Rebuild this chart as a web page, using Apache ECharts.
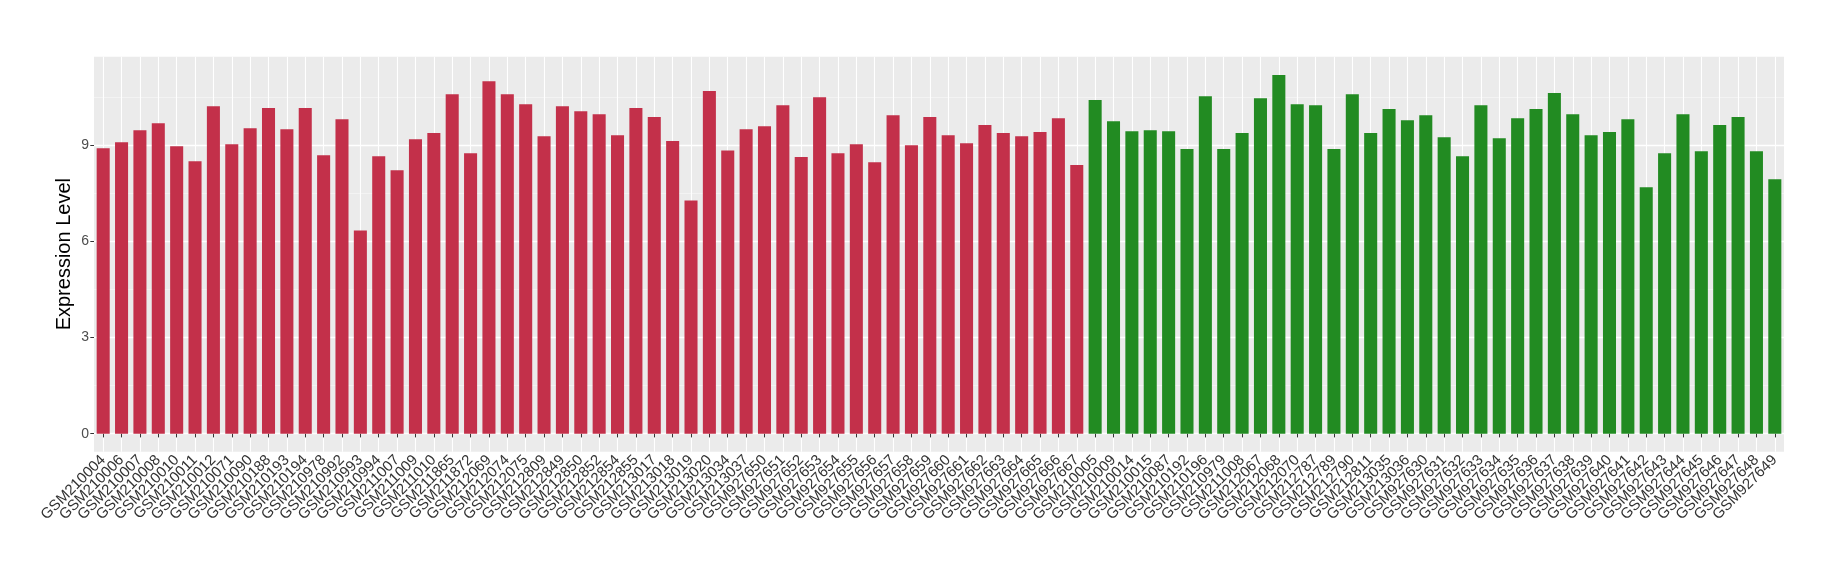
<!DOCTYPE html>
<html>
<head>
<meta charset="utf-8">
<script src="https://cdn.jsdelivr.net/npm/echarts@6/dist/echarts.min.js"></script>
<style>
  html, body { margin: 0; padding: 0; background: #ffffff; }
  #chart { width: 1840px; height: 580px; }
</style>
</head>
<body>
<div id="chart"></div>
<script>
const redSamples = [
  'GSM210004','GSM210006','GSM210007','GSM210008','GSM210010','GSM210011','GSM210012','GSM210071',
  'GSM210090','GSM210188','GSM210193','GSM210194','GSM210978','GSM210992','GSM210993','GSM210994',
  'GSM211007','GSM211009','GSM211010','GSM211865','GSM211872','GSM212069','GSM212074','GSM212075',
  'GSM212809','GSM212849','GSM212850','GSM212852','GSM212854','GSM212855','GSM213017','GSM213018',
  'GSM213019','GSM213020','GSM213034','GSM213037','GSM927650','GSM927651','GSM927652','GSM927653',
  'GSM927654','GSM927655','GSM927656','GSM927657','GSM927658','GSM927659','GSM927660','GSM927661',
  'GSM927662','GSM927663','GSM927664','GSM927665','GSM927666','GSM927667'
];
const redValues = [
  8.91, 9.09, 9.47, 9.69, 8.97, 8.50, 10.22, 9.03,
  9.53, 10.16, 9.50, 10.16, 8.69, 9.81, 6.34, 8.66,
  8.22, 9.19, 9.38, 10.59, 8.75, 11.00, 10.59, 10.28,
  9.28, 10.22, 10.06, 9.97, 9.31, 10.16, 9.88, 9.13,
  7.28, 10.69, 8.84, 9.50, 9.59, 10.25, 8.63, 10.50,
  8.75, 9.03, 8.47, 9.94, 9.00, 9.88, 9.31, 9.06,
  9.63, 9.38, 9.28, 9.41, 9.84, 8.38
];
const greenSamples = [
  'GSM210005','GSM210009','GSM210014','GSM210015','GSM210087','GSM210192','GSM210196','GSM210979',
  'GSM211008','GSM212067','GSM212068','GSM212070','GSM212787','GSM212789','GSM212790','GSM212811',
  'GSM213035','GSM213036','GSM927630','GSM927631','GSM927632','GSM927633','GSM927634','GSM927635',
  'GSM927636','GSM927637','GSM927638','GSM927639','GSM927640','GSM927641','GSM927642','GSM927643',
  'GSM927644','GSM927645','GSM927646','GSM927647','GSM927648','GSM927649'
];
const greenValues = [
  10.41, 9.75, 9.44, 9.47, 9.44, 8.88, 10.53, 8.88,
  9.38, 10.47, 11.19, 10.28, 10.25, 8.88, 10.59, 9.38,
  10.13, 9.78, 9.94, 9.25, 8.66, 10.25, 9.22, 9.84,
  10.13, 10.63, 9.97, 9.31, 9.41, 9.81, 7.69, 8.75,
  9.97, 8.81, 9.63, 9.88, 8.81, 7.94
];
const yTicks = [0, 3, 6, 9];
const yAxisTitle = 'Expression Level';

const categories = redSamples.concat(greenSamples);
const redData = redValues.concat(greenSamples.map(() => '-'));
const greenData = redSamples.map(() => '-').concat(greenValues);

// panel geometry (pixels)
const W = 1840, H = 580;
const panelLeft = 94, panelRight = 56;
const panelTop = 56.7, panelBottom = 451.7;
const zeroY = 433.7;
const unit = (zeroY - panelTop) / 11.763;
const yMinA = -(panelBottom - zeroY) / unit;
const yMaxA = (zeroY - panelTop) / unit;
const gridBTop = zeroY - 12 * unit;
const band = (W - panelLeft - panelRight) / categories.length;

const FONT = 'Liberation Sans, Arial, Helvetica, sans-serif';

const chart = echarts.init(document.getElementById('chart'), null, { renderer: 'canvas' });
chart.setOption({
  animation: false,
  backgroundColor: '#ffffff',
  grid: [
    { left: panelLeft, right: panelRight, top: panelTop, bottom: H - panelBottom,
      show: true, backgroundColor: '#EBEBEB', borderWidth: 0, containLabel: false },
    { left: panelLeft, right: panelRight, top: gridBTop, bottom: H - zeroY,
      show: false, containLabel: false },
    { left: panelLeft + band / 2, right: panelRight + band / 2, top: panelTop, bottom: H - panelBottom,
      show: false, containLabel: false }
  ],
  xAxis: [
    {
      type: 'category', gridIndex: 0, data: categories,
      axisLine: { show: false },
      axisTick: { show: true, alignWithLabel: true, length: 3.7, lineStyle: { color: '#333333', width: 1 } },
      splitLine: { show: false },
      axisLabel: { rotate: 45, interval: 0, margin: 6, fontSize: 15, color: '#333333', fontFamily: FONT }
    },
    { type: 'category', gridIndex: 1, data: categories, show: false },
    {
      type: 'category', gridIndex: 2, data: categories, boundaryGap: false,
      axisLine: { show: false }, axisTick: { show: false }, axisLabel: { show: false },
      splitLine: { show: true, interval: 0, lineStyle: { color: '#ffffff', width: 1.1 } }
    }
  ],
  yAxis: [
    {
      type: 'value', gridIndex: 0, min: yMinA, max: yMaxA,
      axisLine: { show: false }, axisTick: { show: false }, axisLabel: { show: false },
      splitLine: { show: false },
      name: yAxisTitle, nameLocation: 'middle', nameRotate: 90, nameGap: 20,
      nameTextStyle: { fontSize: 20, color: '#000000', fontFamily: FONT }
    },
    {
      type: 'value', gridIndex: 1, min: 0, max: 12, interval: 3,
      axisLine: { show: false },
      axisTick: { show: true, length: 3.7, customValues: yTicks, lineStyle: { color: '#333333', width: 1 } },
      axisLabel: { show: true, customValues: yTicks, margin: 5, fontSize: 14, color: '#4D4D4D', fontFamily: FONT },
      splitLine: { show: true, lineStyle: { color: '#ffffff', width: 1.3 } },
      minorTick: { show: false, splitNumber: 2 },
      minorSplitLine: { show: true, lineStyle: { color: '#F7F7F7', width: 0.7 } }
    },
    {
      type: 'value', gridIndex: 2, min: 0, max: 1, show: false
    }
  ],
  series: [
    {
      type: 'bar', xAxisIndex: 0, yAxisIndex: 0, data: redData,
      barCategoryGap: '29%', barGap: '-100%',
      itemStyle: { color: '#C3304A' }, z: 5
    },
    {
      type: 'bar', xAxisIndex: 0, yAxisIndex: 0, data: greenData,
      barCategoryGap: '29%', barGap: '-100%',
      itemStyle: { color: '#228B22' }, z: 5
    }
  ]
});
</script>
</body>
</html>
